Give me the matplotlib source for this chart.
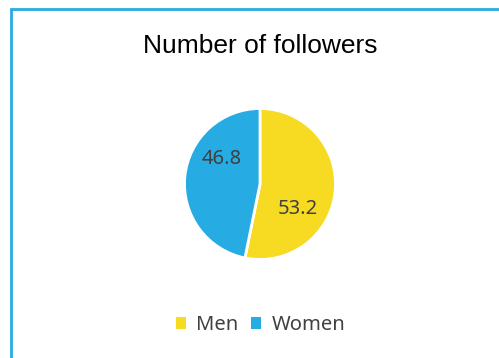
import matplotlib.pyplot as plt
from matplotlib.patches import Rectangle, Patch
import numpy as np

categories = ["Men", "Women"]
values = [53.2, 46.8]
colors = ["#F7DA22", "#26ABE2"]

fig = plt.figure(figsize=(4.99, 3.58), dpi=100)

# chart border (right and bottom sides run off the image)
fig.patches.append(Rectangle((11 / 499, -0.05), 1.2, 1 - 9 / 358 + 0.05,
                             transform=fig.transFigure, fill=False,
                             edgecolor="#29ABE2", lw=2))

fig.text(0.521, 1 - 46 / 358, "Number of followers", ha="center", va="center",
         fontsize=19, family="Liberation Sans", color="black")

ax = fig.add_axes([183 / 499, (358 - 261) / 358, 154 / 499, 154 / 358])
wedges, texts, autotexts = ax.pie(
    values, colors=colors, startangle=90, counterclock=False,
    autopct="%.1f", pctdistance=0.6,
    wedgeprops=dict(edgecolor="white", linewidth=2),
    textprops=dict(fontsize=14.5, family="Noto Sans", color="#404040"),
)
# labels sit a bit clockwise from the wedge middle
for w, t in zip(wedges, autotexts):
    ang = np.deg2rad((w.theta1 + w.theta2) / 2 - 27)
    t.set_position((0.6 * np.cos(ang), 0.6 * np.sin(ang)))
ax.set_xlim(-1.02, 1.02)
ax.set_ylim(-1.02, 1.02)
ax.set_aspect("equal")

handles = [Patch(facecolor=c, edgecolor="none") for c in colors]
fig.legend(handles, categories, loc="center", bbox_to_anchor=(0.522, 1 - 325 / 358),
           ncol=2, frameon=False, handlelength=0.52, handleheight=0.52,
           handletextpad=0.5, columnspacing=0.6,
           prop=dict(family="Noto Sans", size=14.5), labelcolor="#404040")

fig.savefig("out.png", dpi=100)
